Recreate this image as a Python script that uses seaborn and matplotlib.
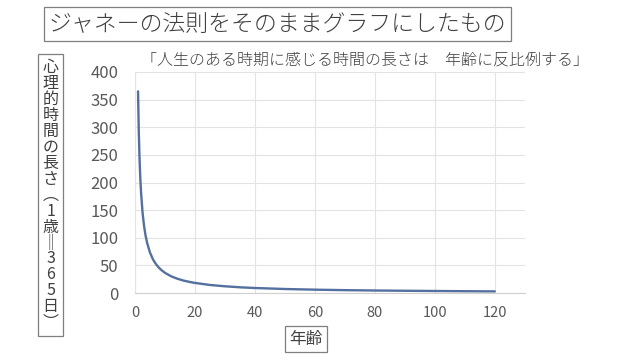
import matplotlib
matplotlib.use("Agg")
import matplotlib.pyplot as plt
import seaborn as sns
import pandas as pd

# ages and perceived length of a year (1 year old = 365 days)
ages = [1, 1.25, 1.5, 1.75, 2, 2.5, 3, 3.5, 4, 5, 6, 7, 8, 9, 10, 12, 14, 16,
        18, 20, 25, 30, 35, 40, 50, 60, 70, 80, 90, 100, 110, 120]
lengths = [365, 292.0, 243.3, 208.6, 182.5, 146.0, 121.7, 104.3, 91.3, 73.0,
           60.8, 52.1, 45.6, 40.6, 36.5, 30.4, 26.1, 22.8, 20.3, 18.3, 14.6,
           12.2, 10.4, 9.1, 7.3, 6.1, 5.2, 4.6, 4.1, 3.7, 3.3, 3.0]
x_ticks = [0, 20, 40, 60, 80, 100, 120]
y_ticks = [0, 50, 100, 150, 200, 250, 300, 350, 400]

title = "ジャネーの法則をそのままグラフにしたもの"
subtitle = "「人生のある時期に感じる時間の長さは　年齢に反比例する」"
ylabel_chars = ["心", "理", "的", "時", "間", "の", "長", "さ", "︵", "1", "歳",
                "‖", "3", "6", "5", "日", "︶"]
xlabel = "年齢"

sns.set_style("white")
plt.rcParams['font.family'] = ['Noto Sans CJK JP', 'DejaVu Sans']

df = pd.DataFrame({"age": ages, "length": lengths})

fig = plt.figure(figsize=(6.4, 3.6), dpi=100)
ax = fig.add_axes([0.211, 0.186, 0.609, 0.614])
sns.lineplot(data=df, x="age", y="length", ax=ax, color="#5470a0", linewidth=1.7)

ax.set_xlim(0, 130)
ax.set_ylim(0, 400)
ax.set_xticks(x_ticks)
ax.set_yticks(y_ticks)
ax.grid(True, color="#e3e3e3", linewidth=0.8)
for s in ["top", "right"]:
    ax.spines[s].set_visible(False)
ax.spines["left"].set_color("#e3e3e3")
ax.spines["bottom"].set_color("#d0d0d0")
ax.tick_params(axis="y", labelsize=12, labelcolor="#595959", length=0, pad=12)
ax.tick_params(axis="x", labelsize=10.5, labelcolor="#595959", length=0, pad=9)
ax.set_xlabel("")
ax.set_ylabel("")

box = dict(boxstyle="square,pad=0.2", facecolor="white", edgecolor="#7f7f7f", linewidth=0.9)
fig.text(0.434, 0.933, title, fontsize=16.5, color="#404040", ha="center", va="center",
         fontweight="light", bbox=box)
fig.text(0.570, 0.833, subtitle, fontsize=11.5, color="#404040", ha="center", va="center",
         fontweight="light")
fig.text(0.079, 0.458, "\n".join(ylabel_chars), fontsize=11.5, color="#404040",
         ha="center", va="center", multialignment="center", linespacing=0.92,
         bbox=dict(boxstyle="square,pad=0.3", facecolor="white", edgecolor="#7f7f7f", linewidth=0.9))
fig.text(0.478, 0.058, xlabel, fontsize=12, color="#404040", ha="center", va="center",
         bbox=dict(boxstyle="square,pad=0.25", facecolor="white", edgecolor="#7f7f7f", linewidth=0.9))

fig.savefig("out.png", dpi=100)
